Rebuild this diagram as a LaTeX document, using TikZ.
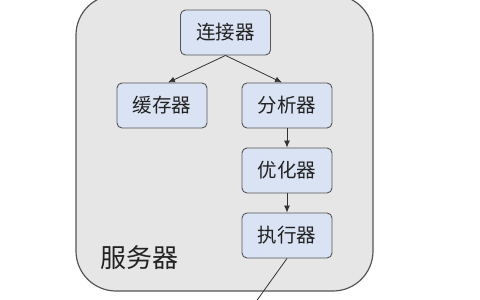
\documentclass[tikz,border=0pt]{standalone}
\usepackage{fontspec}
\newfontfamily\cjk{Noto Sans CJK SC}
\usetikzlibrary{arrows.meta}
\definecolor{outerfill}{HTML}{E6E6E6}
\definecolor{boxfill}{HTML}{DAE3F3}
\definecolor{edgecol}{HTML}{555555}
\definecolor{txt}{HTML}{222222}
\tikzset{
  compbox/.style={draw=edgecol, line width=0.9pt, fill=boxfill, rounded corners=5pt,
    minimum width=90pt, minimum height=45pt, inner sep=0pt,
    font=\cjk\fontsize{19.5pt}{22pt}\selectfont, text=txt},
  conn/.style={draw=black!80, line width=0.8pt, -{Latex[length=7pt,width=6pt]}},
  plainline/.style={draw=black!80, line width=0.8pt}
}
\begin{document}
\begin{tikzpicture}[x=1pt,y=-1pt]
\useasboundingbox (0,0) rectangle (480,300);
\clip (0,0) rectangle (480,300);
\draw[draw=edgecol, line width=1.2pt, fill=outerfill, rounded corners=40pt] (76,-5) rectangle (373,291);
\node[font=\cjk\fontsize{26pt}{30pt}\selectfont, text=txt] (server) at (139,258) {服务器};
\node[compbox] (lianjie) at (225.5,32.5) {连接器};
\node[compbox] (huancun) at (162,105.5) {缓存器};
\node[compbox] (fenxi) at (287,105.5) {分析器};
\node[compbox] (youhua) at (287,170.5) {优化器};
\node[compbox] (zhixing) at (287,235.5) {执行器};
\coordinate (outend) at (250,310);
\draw[conn] (lianjie.south) -- ([xshift=6pt]huancun.north);
\draw[conn] (lianjie.south) -- ([xshift=-5pt]fenxi.north);
\draw[conn] (fenxi.south) -- (youhua.north);
\draw[conn] (youhua.south) -- (zhixing.north);
\draw[plainline] (zhixing.south) -- (outend);
\end{tikzpicture}
\end{document}
